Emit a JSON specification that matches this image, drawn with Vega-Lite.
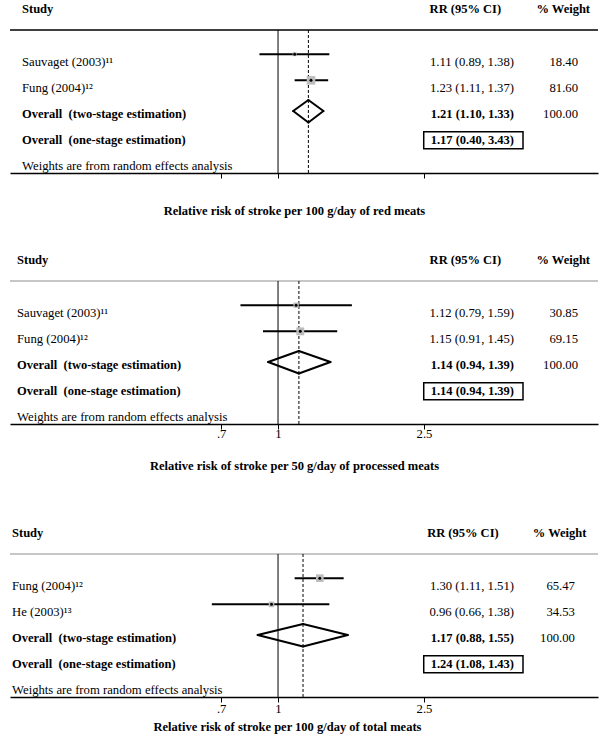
{
"$schema": "https://vega.github.io/schema/vega-lite/v6.json",
"padding": {"left": 9, "top": 0, "right": 0, "bottom": 0},
"spacing": 34,
"datasets": {"rows": [
{"panel":"red","row":"hdr","kind":"header","label":"Study","ci":"RR (95% CI)","wt":"% Weight"},
{"panel":"red","row":"s1","kind":"study","label":"Sauvaget (2003)¹¹","rr":1.11,"lo":0.89,"hi":1.38,"weight":18.40,"ci":"1.11 (0.89, 1.38)","wt":"18.40"},
{"panel":"red","row":"s2","kind":"study","label":"Fung (2004)¹²","rr":1.23,"lo":1.11,"hi":1.37,"weight":81.60,"ci":"1.23 (1.11, 1.37)","wt":"81.60"},
{"panel":"red","row":"o2","kind":"overall2","label":"Overall\u00a0 (two-stage estimation)","rr":1.21,"lo":1.10,"hi":1.33,"weight":100,"ci":"1.21 (1.10, 1.33)","wt":"100.00"},
{"panel":"red","row":"o1","kind":"overall1","label":"Overall\u00a0 (one-stage estimation)","rr":1.17,"lo":0.40,"hi":3.43,"ci":"1.17 (0.40, 3.43)"},
{"panel":"red","row":"w","kind":"note","label":"Weights are from random effects analysis"},
{"panel":"proc","row":"hdr","kind":"header","label":"Study","ci":"RR (95% CI)","wt":"% Weight"},
{"panel":"proc","row":"s1","kind":"study","label":"Sauvaget (2003)¹¹","rr":1.12,"lo":0.79,"hi":1.59,"weight":30.85,"ci":"1.12 (0.79, 1.59)","wt":"30.85"},
{"panel":"proc","row":"s2","kind":"study","label":"Fung (2004)¹²","rr":1.15,"lo":0.91,"hi":1.45,"weight":69.15,"ci":"1.15 (0.91, 1.45)","wt":"69.15"},
{"panel":"proc","row":"o2","kind":"overall2","label":"Overall\u00a0 (two-stage estimation)","rr":1.14,"lo":0.94,"hi":1.39,"weight":100,"ci":"1.14 (0.94, 1.39)","wt":"100.00"},
{"panel":"proc","row":"o1","kind":"overall1","label":"Overall\u00a0 (one-stage estimation)","rr":1.14,"lo":0.94,"hi":1.39,"ci":"1.14 (0.94, 1.39)"},
{"panel":"proc","row":"w","kind":"note","label":"Weights are from random effects analysis"},
{"panel":"total","row":"hdr","kind":"header","label":"Study","ci":"RR (95% CI)","wt":"% Weight"},
{"panel":"total","row":"s1","kind":"study","label":"Fung (2004)¹²","rr":1.30,"lo":1.11,"hi":1.51,"weight":65.47,"ci":"1.30 (1.11, 1.51)","wt":"65.47"},
{"panel":"total","row":"s2","kind":"study","label":"He (2003)¹³","rr":0.96,"lo":0.66,"hi":1.38,"weight":34.53,"ci":"0.96 (0.66, 1.38)","wt":"34.53"},
{"panel":"total","row":"o2","kind":"overall2","label":"Overall\u00a0 (two-stage estimation)","rr":1.17,"lo":0.88,"hi":1.55,"weight":100,"ci":"1.17 (0.88, 1.55)","wt":"100.00"},
{"panel":"total","row":"o1","kind":"overall1","label":"Overall\u00a0 (one-stage estimation)","rr":1.24,"lo":1.08,"hi":1.43,"ci":"1.24 (1.08, 1.43)"},
{"panel":"total","row":"w","kind":"note","label":"Weights are from random effects analysis"}
]},
"vconcat": [
{
"width": 588, "height": 173,
"data": {"name": "rows"},
"transform": [{"filter": "datum.panel == 'red'"}],
"layer": [
{"transform":[{"filter":"datum.kind == 'study'"}],"mark":{"type":"rule","color":"#000","strokeWidth":2,"yOffset":-7.5},"encoding":{"x":{"field":"lo","type":"quantitative","scale":{"type":"log","domain":[0.1859,7.454],"nice":false},"axis":{"values":[0.7,1,2.5],"labels":false,"grid":false,"domainColor":"#000","domainWidth":1.5,"tickColor":"#000","tickSize":5,"tickWidth":1,"title":"Relative risk of stroke per 100 g/day of red meats","titleFont":"Liberation Serif","titleFontSize":12.5,"titleFontWeight":"bold","titleColor":"#000","titlePadding":26,"titleX":284}},"x2":{"field":"hi"},"y":{"field":"row","type":"nominal","scale":{"type":"band","domain":["hdr","line","s1","s2","o2","o1","w"],"paddingInner":0.5,"paddingOuter":0.052,"align":1},"axis":null}}},
{"transform":[{"filter":"datum.row == 'hdr'"}],"mark":{"type":"rule","color":"#000","strokeWidth":1.5,"yOffset":-5.5},"encoding":{"y":{"datum":"line","type":"nominal","scale":{"type":"band","domain":["hdr","line","s1","s2","o2","o1","w"],"paddingInner":0.5,"paddingOuter":0.052,"align":1},"axis":null}}},
{"transform":[{"filter":"datum.row == 'hdr'"}],"mark":{"type":"rule","color":"#000","strokeWidth":1,"yOffset":-5.5,"y2Offset":6.5},"encoding":{"x":{"datum":1,"type":"quantitative","scale":{"type":"log","domain":[0.1859,7.454],"nice":false}},"y":{"datum":"line","type":"nominal","scale":{"type":"band","domain":["hdr","line","s1","s2","o2","o1","w"],"paddingInner":0.5,"paddingOuter":0.052,"align":1},"axis":null},"y2":{"datum":"w"}}},
{"transform":[{"filter":"datum.kind == 'overall2'"}],"mark":{"type":"rule","color":"#000","strokeWidth":1,"strokeDash":[3,2],"yOffset":-5.5,"y2Offset":6.5},"encoding":{"x":{"field":"rr","type":"quantitative","scale":{"type":"log","domain":[0.1859,7.454],"nice":false}},"y":{"datum":"line","type":"nominal","scale":{"type":"band","domain":["hdr","line","s1","s2","o2","o1","w"],"paddingInner":0.5,"paddingOuter":0.052,"align":1},"axis":null},"y2":{"datum":"w"}}},
{"transform":[{"filter":"datum.kind == 'study'"}],"mark":{"type":"point","shape":"square","filled":true,"color":"#bdbdbd","opacity":1,"yOffset":-7.5},"encoding":{"x":{"field":"rr","type":"quantitative","scale":{"type":"log","domain":[0.1859,7.454],"nice":false}},"y":{"field":"row","type":"nominal","scale":{"type":"band","domain":["hdr","line","s1","s2","o2","o1","w"],"paddingInner":0.5,"paddingOuter":0.052,"align":1},"axis":null},"size":{"field":"weight","type":"quantitative","scale":{"domain":[0,100],"range":[0,90]},"legend":null}}},
{"transform":[{"filter":"datum.kind == 'study'"}],"mark":{"type":"point","shape":"circle","filled":true,"color":"#000","opacity":1,"size":9,"yOffset":-7.5},"encoding":{"x":{"field":"rr","type":"quantitative","scale":{"type":"log","domain":[0.1859,7.454],"nice":false}},"y":{"field":"row","type":"nominal","scale":{"type":"band","domain":["hdr","line","s1","s2","o2","o1","w"],"paddingInner":0.5,"paddingOuter":0.052,"align":1},"axis":null}}},
{"transform":[{"filter":"datum.kind == 'overall2'"},{"fold":["lo","hi"],"as":["end","xv"]}],"mark":{"type":"rule","color":"#000","strokeWidth":2,"strokeCap":"round","yOffset":-3,"y2Offset":-14},"encoding":{"x":{"field":"xv","type":"quantitative","scale":{"type":"log","domain":[0.1859,7.454],"nice":false}},"x2":{"field":"rr"},"y":{"field":"row","type":"nominal","scale":{"type":"band","domain":["hdr","line","s1","s2","o2","o1","w"],"paddingInner":0.5,"paddingOuter":0.052,"align":1},"axis":null},"y2":{"field":"row"}}},
{"transform":[{"filter":"datum.kind == 'overall2'"},{"fold":["lo","hi"],"as":["end","xv"]}],"mark":{"type":"rule","color":"#000","strokeWidth":2,"strokeCap":"round","yOffset":-3,"y2Offset":8.5},"encoding":{"x":{"field":"xv","type":"quantitative","scale":{"type":"log","domain":[0.1859,7.454],"nice":false}},"x2":{"field":"rr"},"y":{"field":"row","type":"nominal","scale":{"type":"band","domain":["hdr","line","s1","s2","o2","o1","w"],"paddingInner":0.5,"paddingOuter":0.052,"align":1},"axis":null},"y2":{"field":"row"}}},
{"transform":[{"filter":"datum.kind == 'study' || datum.kind == 'note'"}],"mark":{"type":"text","font":"Liberation Serif","fontSize":12.7,"color":"#000","align":"left","baseline":"middle"},"encoding":{"x":{"datum":0.2005,"type":"quantitative","scale":{"type":"log","domain":[0.1859,7.454],"nice":false}},"y":{"field":"row","type":"nominal","scale":{"type":"band","domain":["hdr","line","s1","s2","o2","o1","w"],"paddingInner":0.5,"paddingOuter":0.052,"align":1},"axis":null},"text":{"field":"label"}}},
{"transform":[{"filter":"datum.kind == 'header' || datum.kind == 'overall2' || datum.kind == 'overall1'"}],"mark":{"type":"text","font":"Liberation Serif","fontSize":12.5,"fontWeight":"bold","color":"#000","align":"left","baseline":"middle"},"encoding":{"x":{"datum":0.2005,"type":"quantitative","scale":{"type":"log","domain":[0.1859,7.454],"nice":false}},"y":{"field":"row","type":"nominal","scale":{"type":"band","domain":["hdr","line","s1","s2","o2","o1","w"],"paddingInner":0.5,"paddingOuter":0.052,"align":1},"axis":null},"text":{"field":"label"}}},
{"transform":[{"filter":"datum.kind == 'header'"}],"mark":{"type":"text","font":"Liberation Serif","fontSize":12.5,"fontWeight":"bold","color":"#000","align":"left","baseline":"middle"},"encoding":{"x":{"datum":2.59,"type":"quantitative","scale":{"type":"log","domain":[0.1859,7.454],"nice":false}},"y":{"field":"row","type":"nominal","scale":{"type":"band","domain":["hdr","line","s1","s2","o2","o1","w"],"paddingInner":0.5,"paddingOuter":0.052,"align":1},"axis":null},"text":{"field":"ci"}}},
{"transform":[{"filter":"datum.kind == 'header'"}],"mark":{"type":"text","font":"Liberation Serif","fontSize":12.5,"fontWeight":"bold","color":"#000","align":"right","baseline":"middle"},"encoding":{"x":{"datum":7.09,"type":"quantitative","scale":{"type":"log","domain":[0.1859,7.454],"nice":false}},"y":{"field":"row","type":"nominal","scale":{"type":"band","domain":["hdr","line","s1","s2","o2","o1","w"],"paddingInner":0.5,"paddingOuter":0.052,"align":1},"axis":null},"text":{"field":"wt"}}},
{"transform":[{"filter":"datum.kind == 'study'"}],"mark":{"type":"text","font":"Liberation Serif","fontSize":12.7,"color":"#000","align":"right","baseline":"middle"},"encoding":{"x":{"datum":4.399,"type":"quantitative","scale":{"type":"log","domain":[0.1859,7.454],"nice":false}},"y":{"field":"row","type":"nominal","scale":{"type":"band","domain":["hdr","line","s1","s2","o2","o1","w"],"paddingInner":0.5,"paddingOuter":0.052,"align":1},"axis":null},"text":{"field":"ci"}}},
{"transform":[{"filter":"datum.kind == 'overall2' || datum.kind == 'overall1'"}],"mark":{"type":"text","font":"Liberation Serif","fontSize":12.5,"fontWeight":"bold","color":"#000","align":"right","baseline":"middle"},"encoding":{"x":{"datum":4.399,"type":"quantitative","scale":{"type":"log","domain":[0.1859,7.454],"nice":false}},"y":{"field":"row","type":"nominal","scale":{"type":"band","domain":["hdr","line","s1","s2","o2","o1","w"],"paddingInner":0.5,"paddingOuter":0.052,"align":1},"axis":null},"text":{"field":"ci"}}},
{"transform":[{"filter":"datum.kind == 'study' || datum.kind == 'overall2'"}],"mark":{"type":"text","font":"Liberation Serif","fontSize":12.7,"color":"#000","align":"right","baseline":"middle"},"encoding":{"x":{"datum":6.575,"type":"quantitative","scale":{"type":"log","domain":[0.1859,7.454],"nice":false}},"y":{"field":"row","type":"nominal","scale":{"type":"band","domain":["hdr","line","s1","s2","o2","o1","w"],"paddingInner":0.5,"paddingOuter":0.052,"align":1},"axis":null},"text":{"field":"wt"}}},
{"transform":[{"filter":"datum.kind == 'overall1'"}],"mark":{"type":"rect","fillOpacity":0,"stroke":"#000","strokeWidth":1.5,"height":17},"encoding":{"x":{"datum":2.496,"type":"quantitative","scale":{"type":"log","domain":[0.1859,7.454],"nice":false}},"x2":{"datum":4.655},"y":{"field":"row","type":"nominal","scale":{"type":"band","domain":["hdr","line","s1","s2","o2","o1","w"],"paddingInner":0.5,"paddingOuter":0.052,"align":1},"axis":null}}}
]
},
{
"spacing": 51,
"vconcat": [
{
"width": 588, "height": 173,
"data": {"name": "rows"},
"transform": [{"filter": "datum.panel == 'proc'"}],
"layer": [
{"transform":[{"filter":"datum.kind == 'study'"}],"mark":{"type":"rule","color":"#000","strokeWidth":2,"yOffset":-7.5},"encoding":{"x":{"field":"lo","type":"quantitative","scale":{"type":"log","domain":[0.1859,7.454],"nice":false},"axis":{"values":[0.7,1,2.5],"labelExpr":"datum.value < 1 ? substring(datum.label, 1) : datum.label","format":"~g","labelFont":"Liberation Serif","labelFontSize":12.7,"labelColor":"#000","labelPadding":-2,"grid":false,"domainColor":"#000","domainWidth":1.5,"tickColor":"#000","tickSize":5,"tickWidth":1,"title":"Relative risk of stroke per 50 g/day of processed meats","titleFont":"Liberation Serif","titleFontSize":12.5,"titleFontWeight":"bold","titleColor":"#000","titlePadding":20,"titleX":284}},"x2":{"field":"hi"},"y":{"field":"row","type":"nominal","scale":{"type":"band","domain":["hdr","line","s1","s2","o2","o1","w"],"paddingInner":0.5,"paddingOuter":0.052,"align":1},"axis":null}}},
{"transform":[{"filter":"datum.row == 'hdr'"}],"mark":{"type":"rule","color":"#b5b5b5","strokeWidth":1.5,"yOffset":-5.5},"encoding":{"y":{"datum":"line","type":"nominal","scale":{"type":"band","domain":["hdr","line","s1","s2","o2","o1","w"],"paddingInner":0.5,"paddingOuter":0.052,"align":1},"axis":null}}},
{"transform":[{"filter":"datum.row == 'hdr'"}],"mark":{"type":"rule","color":"#000","strokeWidth":1,"yOffset":-5.5,"y2Offset":6.5},"encoding":{"x":{"datum":1,"type":"quantitative","scale":{"type":"log","domain":[0.1859,7.454],"nice":false}},"y":{"datum":"line","type":"nominal","scale":{"type":"band","domain":["hdr","line","s1","s2","o2","o1","w"],"paddingInner":0.5,"paddingOuter":0.052,"align":1},"axis":null},"y2":{"datum":"w"}}},
{"transform":[{"filter":"datum.kind == 'overall2'"}],"mark":{"type":"rule","color":"#000","strokeWidth":1,"strokeDash":[3,2],"yOffset":-5.5,"y2Offset":6.5},"encoding":{"x":{"field":"rr","type":"quantitative","scale":{"type":"log","domain":[0.1859,7.454],"nice":false}},"y":{"datum":"line","type":"nominal","scale":{"type":"band","domain":["hdr","line","s1","s2","o2","o1","w"],"paddingInner":0.5,"paddingOuter":0.052,"align":1},"axis":null},"y2":{"datum":"w"}}},
{"transform":[{"filter":"datum.kind == 'study'"}],"mark":{"type":"point","shape":"square","filled":true,"color":"#bdbdbd","opacity":1,"yOffset":-7.5},"encoding":{"x":{"field":"rr","type":"quantitative","scale":{"type":"log","domain":[0.1859,7.454],"nice":false}},"y":{"field":"row","type":"nominal","scale":{"type":"band","domain":["hdr","line","s1","s2","o2","o1","w"],"paddingInner":0.5,"paddingOuter":0.052,"align":1},"axis":null},"size":{"field":"weight","type":"quantitative","scale":{"domain":[0,100],"range":[0,90]},"legend":null}}},
{"transform":[{"filter":"datum.kind == 'study'"}],"mark":{"type":"point","shape":"circle","filled":true,"color":"#000","opacity":1,"size":9,"yOffset":-7.5},"encoding":{"x":{"field":"rr","type":"quantitative","scale":{"type":"log","domain":[0.1859,7.454],"nice":false}},"y":{"field":"row","type":"nominal","scale":{"type":"band","domain":["hdr","line","s1","s2","o2","o1","w"],"paddingInner":0.5,"paddingOuter":0.052,"align":1},"axis":null}}},
{"transform":[{"filter":"datum.kind == 'overall2'"},{"fold":["lo","hi"],"as":["end","xv"]}],"mark":{"type":"rule","color":"#000","strokeWidth":2,"strokeCap":"round","yOffset":-3,"y2Offset":-14},"encoding":{"x":{"field":"xv","type":"quantitative","scale":{"type":"log","domain":[0.1859,7.454],"nice":false}},"x2":{"field":"rr"},"y":{"field":"row","type":"nominal","scale":{"type":"band","domain":["hdr","line","s1","s2","o2","o1","w"],"paddingInner":0.5,"paddingOuter":0.052,"align":1},"axis":null},"y2":{"field":"row"}}},
{"transform":[{"filter":"datum.kind == 'overall2'"},{"fold":["lo","hi"],"as":["end","xv"]}],"mark":{"type":"rule","color":"#000","strokeWidth":2,"strokeCap":"round","yOffset":-3,"y2Offset":8.5},"encoding":{"x":{"field":"xv","type":"quantitative","scale":{"type":"log","domain":[0.1859,7.454],"nice":false}},"x2":{"field":"rr"},"y":{"field":"row","type":"nominal","scale":{"type":"band","domain":["hdr","line","s1","s2","o2","o1","w"],"paddingInner":0.5,"paddingOuter":0.052,"align":1},"axis":null},"y2":{"field":"row"}}},
{"transform":[{"filter":"datum.kind == 'study' || datum.kind == 'note'"}],"mark":{"type":"text","font":"Liberation Serif","fontSize":12.7,"color":"#000","align":"left","baseline":"middle"},"encoding":{"x":{"datum":0.1943,"type":"quantitative","scale":{"type":"log","domain":[0.1859,7.454],"nice":false}},"y":{"field":"row","type":"nominal","scale":{"type":"band","domain":["hdr","line","s1","s2","o2","o1","w"],"paddingInner":0.5,"paddingOuter":0.052,"align":1},"axis":null},"text":{"field":"label"}}},
{"transform":[{"filter":"datum.kind == 'header' || datum.kind == 'overall2' || datum.kind == 'overall1'"}],"mark":{"type":"text","font":"Liberation Serif","fontSize":12.5,"fontWeight":"bold","color":"#000","align":"left","baseline":"middle"},"encoding":{"x":{"datum":0.1943,"type":"quantitative","scale":{"type":"log","domain":[0.1859,7.454],"nice":false}},"y":{"field":"row","type":"nominal","scale":{"type":"band","domain":["hdr","line","s1","s2","o2","o1","w"],"paddingInner":0.5,"paddingOuter":0.052,"align":1},"axis":null},"text":{"field":"label"}}},
{"transform":[{"filter":"datum.kind == 'header'"}],"mark":{"type":"text","font":"Liberation Serif","fontSize":12.5,"fontWeight":"bold","color":"#000","align":"left","baseline":"middle"},"encoding":{"x":{"datum":2.59,"type":"quantitative","scale":{"type":"log","domain":[0.1859,7.454],"nice":false}},"y":{"field":"row","type":"nominal","scale":{"type":"band","domain":["hdr","line","s1","s2","o2","o1","w"],"paddingInner":0.5,"paddingOuter":0.052,"align":1},"axis":null},"text":{"field":"ci"}}},
{"transform":[{"filter":"datum.kind == 'header'"}],"mark":{"type":"text","font":"Liberation Serif","fontSize":12.5,"fontWeight":"bold","color":"#000","align":"right","baseline":"middle"},"encoding":{"x":{"datum":7.09,"type":"quantitative","scale":{"type":"log","domain":[0.1859,7.454],"nice":false}},"y":{"field":"row","type":"nominal","scale":{"type":"band","domain":["hdr","line","s1","s2","o2","o1","w"],"paddingInner":0.5,"paddingOuter":0.052,"align":1},"axis":null},"text":{"field":"wt"}}},
{"transform":[{"filter":"datum.kind == 'study'"}],"mark":{"type":"text","font":"Liberation Serif","fontSize":12.7,"color":"#000","align":"right","baseline":"middle"},"encoding":{"x":{"datum":4.399,"type":"quantitative","scale":{"type":"log","domain":[0.1859,7.454],"nice":false}},"y":{"field":"row","type":"nominal","scale":{"type":"band","domain":["hdr","line","s1","s2","o2","o1","w"],"paddingInner":0.5,"paddingOuter":0.052,"align":1},"axis":null},"text":{"field":"ci"}}},
{"transform":[{"filter":"datum.kind == 'overall2' || datum.kind == 'overall1'"}],"mark":{"type":"text","font":"Liberation Serif","fontSize":12.5,"fontWeight":"bold","color":"#000","align":"right","baseline":"middle"},"encoding":{"x":{"datum":4.399,"type":"quantitative","scale":{"type":"log","domain":[0.1859,7.454],"nice":false}},"y":{"field":"row","type":"nominal","scale":{"type":"band","domain":["hdr","line","s1","s2","o2","o1","w"],"paddingInner":0.5,"paddingOuter":0.052,"align":1},"axis":null},"text":{"field":"ci"}}},
{"transform":[{"filter":"datum.kind == 'study' || datum.kind == 'overall2'"}],"mark":{"type":"text","font":"Liberation Serif","fontSize":12.7,"color":"#000","align":"right","baseline":"middle"},"encoding":{"x":{"datum":6.575,"type":"quantitative","scale":{"type":"log","domain":[0.1859,7.454],"nice":false}},"y":{"field":"row","type":"nominal","scale":{"type":"band","domain":["hdr","line","s1","s2","o2","o1","w"],"paddingInner":0.5,"paddingOuter":0.052,"align":1},"axis":null},"text":{"field":"wt"}}},
{"transform":[{"filter":"datum.kind == 'overall1'"}],"mark":{"type":"rect","fillOpacity":0,"stroke":"#000","strokeWidth":1.5,"height":17},"encoding":{"x":{"datum":2.496,"type":"quantitative","scale":{"type":"log","domain":[0.1859,7.454],"nice":false}},"x2":{"datum":4.655},"y":{"field":"row","type":"nominal","scale":{"type":"band","domain":["hdr","line","s1","s2","o2","o1","w"],"paddingInner":0.5,"paddingOuter":0.052,"align":1},"axis":null}}}
]
},
{
"width": 588, "height": 173,
"data": {"name": "rows"},
"transform": [{"filter": "datum.panel == 'total'"}],
"layer": [
{"transform":[{"filter":"datum.kind == 'study'"}],"mark":{"type":"rule","color":"#000","strokeWidth":2,"yOffset":-7.5},"encoding":{"x":{"field":"lo","type":"quantitative","scale":{"type":"log","domain":[0.1859,7.454],"nice":false},"axis":{"values":[0.7,1,2.5],"labelExpr":"datum.value < 1 ? substring(datum.label, 1) : datum.label","format":"~g","labelFont":"Liberation Serif","labelFontSize":12.7,"labelColor":"#000","labelPadding":0,"grid":false,"domainColor":"#000","domainWidth":1.5,"tickColor":"#000","tickSize":5,"tickWidth":1,"title":"Relative risk of stroke per 100 g/day of total meats","titleFont":"Liberation Serif","titleFontSize":12.5,"titleFontWeight":"bold","titleColor":"#000","titlePadding":6,"titleX":277}},"x2":{"field":"hi"},"y":{"field":"row","type":"nominal","scale":{"type":"band","domain":["hdr","line","s1","s2","o2","o1","w"],"paddingInner":0.5,"paddingOuter":0.052,"align":1},"axis":null}}},
{"transform":[{"filter":"datum.row == 'hdr'"}],"mark":{"type":"rule","color":"#b5b5b5","strokeWidth":1.5,"yOffset":-5.5},"encoding":{"y":{"datum":"line","type":"nominal","scale":{"type":"band","domain":["hdr","line","s1","s2","o2","o1","w"],"paddingInner":0.5,"paddingOuter":0.052,"align":1},"axis":null}}},
{"transform":[{"filter":"datum.row == 'hdr'"}],"mark":{"type":"rule","color":"#000","strokeWidth":1,"yOffset":-5.5,"y2Offset":6.5},"encoding":{"x":{"datum":1,"type":"quantitative","scale":{"type":"log","domain":[0.1859,7.454],"nice":false}},"y":{"datum":"line","type":"nominal","scale":{"type":"band","domain":["hdr","line","s1","s2","o2","o1","w"],"paddingInner":0.5,"paddingOuter":0.052,"align":1},"axis":null},"y2":{"datum":"w"}}},
{"transform":[{"filter":"datum.kind == 'overall2'"}],"mark":{"type":"rule","color":"#000","strokeWidth":1,"strokeDash":[3,2],"yOffset":-5.5,"y2Offset":6.5},"encoding":{"x":{"field":"rr","type":"quantitative","scale":{"type":"log","domain":[0.1859,7.454],"nice":false}},"y":{"datum":"line","type":"nominal","scale":{"type":"band","domain":["hdr","line","s1","s2","o2","o1","w"],"paddingInner":0.5,"paddingOuter":0.052,"align":1},"axis":null},"y2":{"datum":"w"}}},
{"transform":[{"filter":"datum.kind == 'study'"}],"mark":{"type":"point","shape":"square","filled":true,"color":"#bdbdbd","opacity":1,"yOffset":-7.5},"encoding":{"x":{"field":"rr","type":"quantitative","scale":{"type":"log","domain":[0.1859,7.454],"nice":false}},"y":{"field":"row","type":"nominal","scale":{"type":"band","domain":["hdr","line","s1","s2","o2","o1","w"],"paddingInner":0.5,"paddingOuter":0.052,"align":1},"axis":null},"size":{"field":"weight","type":"quantitative","scale":{"domain":[0,100],"range":[0,90]},"legend":null}}},
{"transform":[{"filter":"datum.kind == 'study'"}],"mark":{"type":"point","shape":"circle","filled":true,"color":"#000","opacity":1,"size":9,"yOffset":-7.5},"encoding":{"x":{"field":"rr","type":"quantitative","scale":{"type":"log","domain":[0.1859,7.454],"nice":false}},"y":{"field":"row","type":"nominal","scale":{"type":"band","domain":["hdr","line","s1","s2","o2","o1","w"],"paddingInner":0.5,"paddingOuter":0.052,"align":1},"axis":null}}},
{"transform":[{"filter":"datum.kind == 'overall2'"},{"fold":["lo","hi"],"as":["end","xv"]}],"mark":{"type":"rule","color":"#000","strokeWidth":2,"strokeCap":"round","yOffset":-3,"y2Offset":-14},"encoding":{"x":{"field":"xv","type":"quantitative","scale":{"type":"log","domain":[0.1859,7.454],"nice":false}},"x2":{"field":"rr"},"y":{"field":"row","type":"nominal","scale":{"type":"band","domain":["hdr","line","s1","s2","o2","o1","w"],"paddingInner":0.5,"paddingOuter":0.052,"align":1},"axis":null},"y2":{"field":"row"}}},
{"transform":[{"filter":"datum.kind == 'overall2'"},{"fold":["lo","hi"],"as":["end","xv"]}],"mark":{"type":"rule","color":"#000","strokeWidth":2,"strokeCap":"round","yOffset":-3,"y2Offset":8.5},"encoding":{"x":{"field":"xv","type":"quantitative","scale":{"type":"log","domain":[0.1859,7.454],"nice":false}},"x2":{"field":"rr"},"y":{"field":"row","type":"nominal","scale":{"type":"band","domain":["hdr","line","s1","s2","o2","o1","w"],"paddingInner":0.5,"paddingOuter":0.052,"align":1},"axis":null},"y2":{"field":"row"}}},
{"transform":[{"filter":"datum.kind == 'study' || datum.kind == 'note'"}],"mark":{"type":"text","font":"Liberation Serif","fontSize":12.7,"color":"#000","align":"left","baseline":"middle"},"encoding":{"x":{"datum":0.1883,"type":"quantitative","scale":{"type":"log","domain":[0.1859,7.454],"nice":false}},"y":{"field":"row","type":"nominal","scale":{"type":"band","domain":["hdr","line","s1","s2","o2","o1","w"],"paddingInner":0.5,"paddingOuter":0.052,"align":1},"axis":null},"text":{"field":"label"}}},
{"transform":[{"filter":"datum.kind == 'header' || datum.kind == 'overall2' || datum.kind == 'overall1'"}],"mark":{"type":"text","font":"Liberation Serif","fontSize":12.5,"fontWeight":"bold","color":"#000","align":"left","baseline":"middle"},"encoding":{"x":{"datum":0.1883,"type":"quantitative","scale":{"type":"log","domain":[0.1859,7.454],"nice":false}},"y":{"field":"row","type":"nominal","scale":{"type":"band","domain":["hdr","line","s1","s2","o2","o1","w"],"paddingInner":0.5,"paddingOuter":0.052,"align":1},"axis":null},"text":{"field":"label"}}},
{"transform":[{"filter":"datum.kind == 'header'"}],"mark":{"type":"text","font":"Liberation Serif","fontSize":12.5,"fontWeight":"bold","color":"#000","align":"left","baseline":"middle"},"encoding":{"x":{"datum":2.55,"type":"quantitative","scale":{"type":"log","domain":[0.1859,7.454],"nice":false}},"y":{"field":"row","type":"nominal","scale":{"type":"band","domain":["hdr","line","s1","s2","o2","o1","w"],"paddingInner":0.5,"paddingOuter":0.052,"align":1},"axis":null},"text":{"field":"ci"}}},
{"transform":[{"filter":"datum.kind == 'header'"}],"mark":{"type":"text","font":"Liberation Serif","fontSize":12.5,"fontWeight":"bold","color":"#000","align":"right","baseline":"middle"},"encoding":{"x":{"datum":6.93,"type":"quantitative","scale":{"type":"log","domain":[0.1859,7.454],"nice":false}},"y":{"field":"row","type":"nominal","scale":{"type":"band","domain":["hdr","line","s1","s2","o2","o1","w"],"paddingInner":0.5,"paddingOuter":0.052,"align":1},"axis":null},"text":{"field":"wt"}}},
{"transform":[{"filter":"datum.kind == 'study'"}],"mark":{"type":"text","font":"Liberation Serif","fontSize":12.7,"color":"#000","align":"right","baseline":"middle"},"encoding":{"x":{"datum":4.399,"type":"quantitative","scale":{"type":"log","domain":[0.1859,7.454],"nice":false}},"y":{"field":"row","type":"nominal","scale":{"type":"band","domain":["hdr","line","s1","s2","o2","o1","w"],"paddingInner":0.5,"paddingOuter":0.052,"align":1},"axis":null},"text":{"field":"ci"}}},
{"transform":[{"filter":"datum.kind == 'overall2' || datum.kind == 'overall1'"}],"mark":{"type":"text","font":"Liberation Serif","fontSize":12.5,"fontWeight":"bold","color":"#000","align":"right","baseline":"middle"},"encoding":{"x":{"datum":4.399,"type":"quantitative","scale":{"type":"log","domain":[0.1859,7.454],"nice":false}},"y":{"field":"row","type":"nominal","scale":{"type":"band","domain":["hdr","line","s1","s2","o2","o1","w"],"paddingInner":0.5,"paddingOuter":0.052,"align":1},"axis":null},"text":{"field":"ci"}}},
{"transform":[{"filter":"datum.kind == 'study' || datum.kind == 'overall2'"}],"mark":{"type":"text","font":"Liberation Serif","fontSize":12.7,"color":"#000","align":"right","baseline":"middle"},"encoding":{"x":{"datum":6.45,"type":"quantitative","scale":{"type":"log","domain":[0.1859,7.454],"nice":false}},"y":{"field":"row","type":"nominal","scale":{"type":"band","domain":["hdr","line","s1","s2","o2","o1","w"],"paddingInner":0.5,"paddingOuter":0.052,"align":1},"axis":null},"text":{"field":"wt"}}},
{"transform":[{"filter":"datum.kind == 'overall1'"}],"mark":{"type":"rect","fillOpacity":0,"stroke":"#000","strokeWidth":1.5,"height":17},"encoding":{"x":{"datum":2.496,"type":"quantitative","scale":{"type":"log","domain":[0.1859,7.454],"nice":false}},"x2":{"datum":4.655},"y":{"field":"row","type":"nominal","scale":{"type":"band","domain":["hdr","line","s1","s2","o2","o1","w"],"paddingInner":0.5,"paddingOuter":0.052,"align":1},"axis":null}}}
]
}
]
}
],
"config": {"view": {"stroke": null}, "axis": {"grid": false}, "font": "Liberation Serif"}
}
